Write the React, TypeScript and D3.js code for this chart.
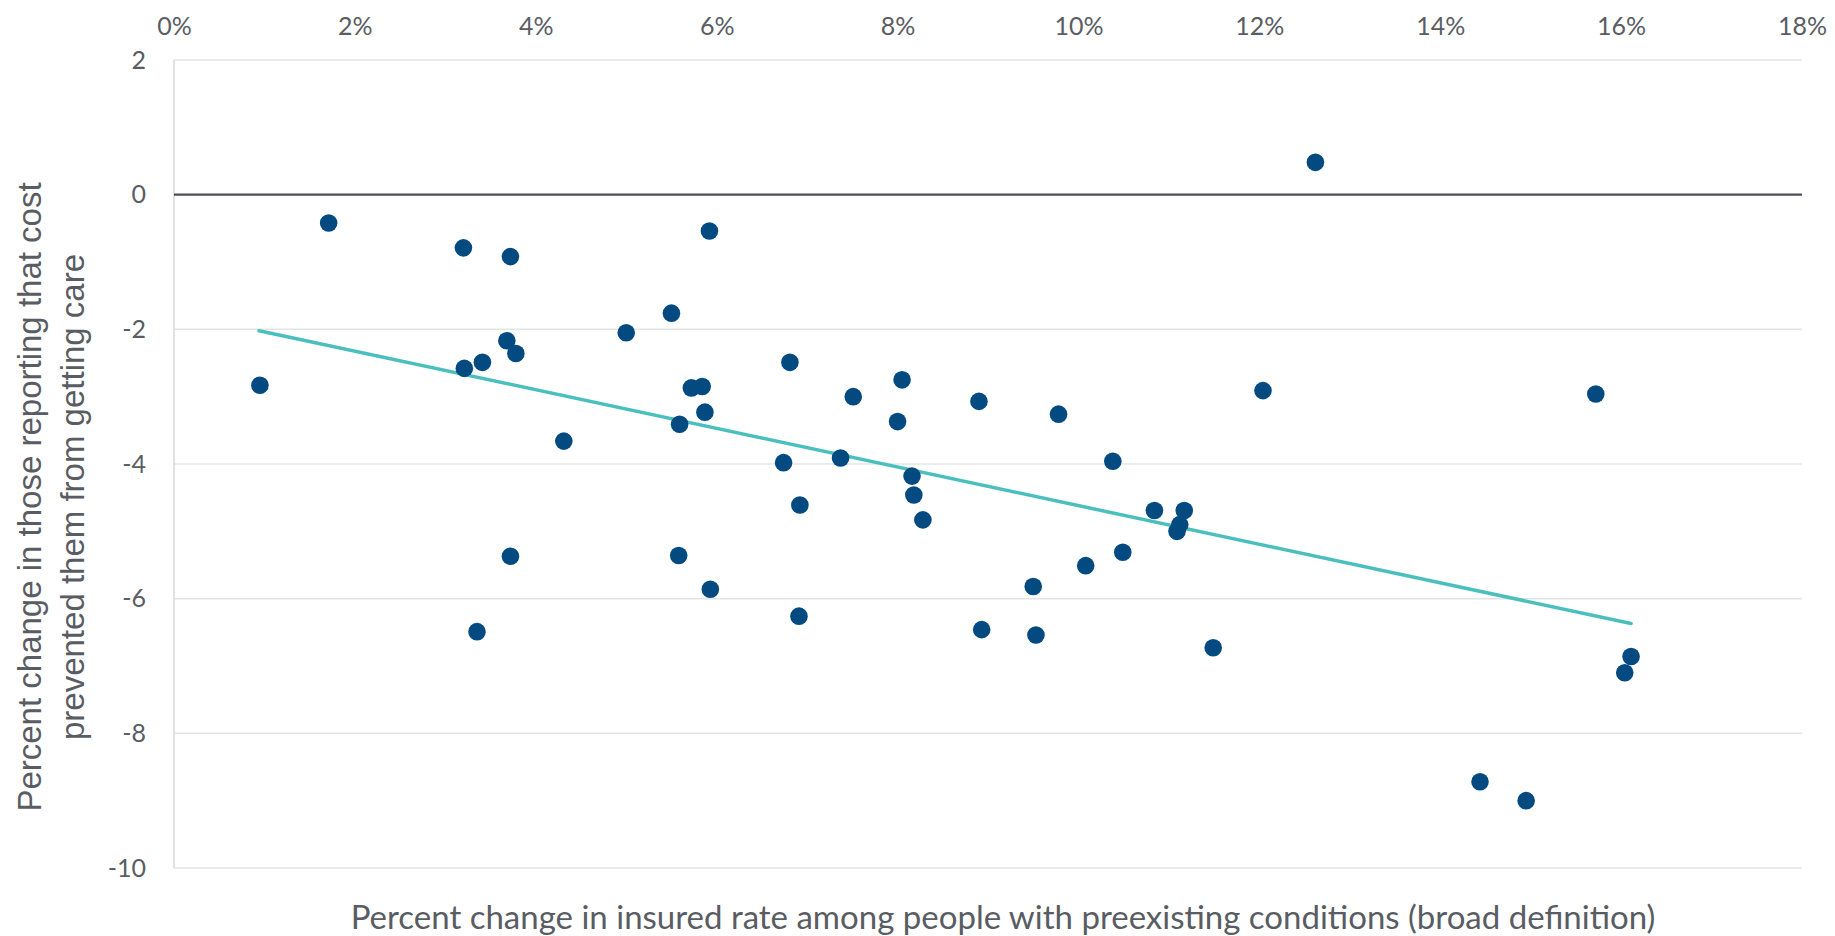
import { useRef, useEffect } from 'react'
import * as d3 from 'd3'

// Percent change in insured rate (x) vs percent change in cost barrier (y), one point per state
const insuredChange = [
  0.95, 1.71, 3.2, 3.72, 3.21, 3.41, 3.68, 3.78, 4.31, 3.72, 3.35,
  5.0, 5.5, 5.92, 6.81, 5.72, 5.84, 5.87, 5.59, 7.51, 8.05, 8.0, 8.9, 9.78,
  6.74, 7.37, 8.16, 8.18, 8.28, 6.92, 10.38, 10.84, 11.17, 11.12, 11.09,
  10.49, 10.08, 9.5, 5.58, 5.93, 6.91, 8.93, 9.53, 11.49,
  12.62, 12.04, 15.72, 16.11, 16.04, 14.44, 14.95,
]
const costBarrierChange = [
  -2.83, -0.42, -0.79, -0.92, -2.58, -2.49, -2.17, -2.36, -3.66, -5.37, -6.49,
  -2.05, -1.76, -0.54, -2.49, -2.87, -2.85, -3.23, -3.41, -3.0, -2.75, -3.37, -3.07, -3.26,
  -3.98, -3.91, -4.18, -4.46, -4.83, -4.61, -3.96, -4.69, -4.69, -4.9, -5.0,
  -5.31, -5.51, -5.82, -5.36, -5.86, -6.26, -6.46, -6.54, -6.73,
  0.48, -2.91, -2.96, -6.86, -7.1, -8.72, -9.0,
]

// Linear trendline endpoints
const trendX = [0.94, 16.11]
const trendY = [-2.02, -6.37]

const xTicks = [0, 2, 4, 6, 8, 10, 12, 14, 16, 18]
const yTicks = [2, 0, -2, -4, -6, -8, -10]

const xTitle = 'Percent change in insured rate among people with preexisting conditions (broad definition)'
const yTitleLines = ['Percent change in those reporting that cost', 'prevented them from getting care']

const FONT = 'Lato, "Open Sans", sans-serif'
const Y_TITLE_FONT = '"Liberation Sans", Arial, sans-serif'
const TEXT = '#595d63'

export default function App() {
  const svgRef = useRef<SVGSVGElement>(null)
  const width = 1835
  const height = 936

  useEffect(() => {
    if (!svgRef.current) return
    document.body.style.margin = '0'

    const svg = d3.select(svgRef.current)
    svg.selectAll('*').remove()

    const margin = { top: 60, right: 33, bottom: 68, left: 174 }
    const innerWidth = width - margin.left - margin.right
    const innerHeight = height - margin.top - margin.bottom

    const g = svg
      .attr('width', width)
      .attr('height', height)
      .append('g')
      .attr('transform', `translate(${margin.left},${margin.top})`)

    const xScale = d3.scaleLinear().domain([0, 18]).range([0, innerWidth])
    const yScale = d3.scaleLinear().domain([-10, 2]).range([innerHeight, 0])

    // Gridlines
    for (const level of yTicks) {
      if (level === 0) continue
      g.append('line')
        .attr('x1', 0).attr('x2', innerWidth)
        .attr('y1', yScale(level)).attr('y2', yScale(level))
        .attr('stroke', '#e3e4e5')
        .attr('stroke-width', 1.5)
    }

    // Left axis line
    g.append('line')
      .attr('x1', 0).attr('x2', 0)
      .attr('y1', 0).attr('y2', innerHeight)
      .attr('stroke', '#d6d8db')
      .attr('stroke-width', 1.5)

    // Zero line
    g.append('line')
      .attr('x1', 0).attr('x2', innerWidth)
      .attr('y1', yScale(0)).attr('y2', yScale(0))
      .attr('stroke', '#4b5058')
      .attr('stroke-width', 2.2)

    // X axis (top)
    g.append('g')
      .call(d3.axisTop(xScale).tickValues(xTicks).tickSize(0).tickPadding(25).tickFormat((d) => `${d}%`))
      .call((a) => a.selectAll('text').attr('fill', TEXT).attr('font-size', '25px').attr('font-family', FONT))
      .call((a) => a.select('.domain').remove())

    // Y axis (plain hyphen for negatives)
    g.append('g')
      .call(d3.axisLeft(yScale).tickValues(yTicks).tickSize(0).tickPadding(28).tickFormat((d) => String(d)))
      .call((a) => a.selectAll('text').attr('fill', TEXT).attr('font-size', '25px').attr('font-family', FONT))
      .call((a) => a.select('.domain').remove())

    // Trendline
    const trend = trendX.map((x, i) => ({ x, y: trendY[i] }))
    const line = d3.line<{ x: number; y: number }>().x((d) => xScale(d.x)).y((d) => yScale(d.y))
    g.append('path')
      .datum(trend)
      .attr('fill', 'none')
      .attr('stroke', '#4bbfbd')
      .attr('stroke-width', 3.5)
      .attr('stroke-linecap', 'round')
      .attr('d', line)

    // Points
    const points = insuredChange.map((x, i) => ({ x, y: costBarrierChange[i] }))
    g.selectAll('.dot')
      .data(points)
      .join('circle')
      .attr('cx', (d) => xScale(d.x))
      .attr('cy', (d) => yScale(d.y))
      .attr('r', 8.8)
      .attr('fill', '#034a80')

    // X title
    svg.append('text')
      .attr('x', 1003).attr('y', 929)
      .attr('text-anchor', 'middle')
      .attr('fill', TEXT)
      .attr('font-size', '33px')
      .attr('font-family', FONT)
      .text(xTitle)

    // Y title
    const yt = svg.append('text')
      .attr('transform', 'translate(0,497) rotate(-90)')
      .attr('text-anchor', 'middle')
      .attr('fill', TEXT)
      .attr('font-size', '33px')
      .attr('font-family', Y_TITLE_FONT)
    yTitleLines.forEach((t, i) => {
      yt.append('tspan').attr('x', 0).attr('y', 41 + i * 43).text(t)
    })
  }, [])

  return (
    <div>
      <svg ref={svgRef} style={{ display: 'block' }} />
    </div>
  )
}
